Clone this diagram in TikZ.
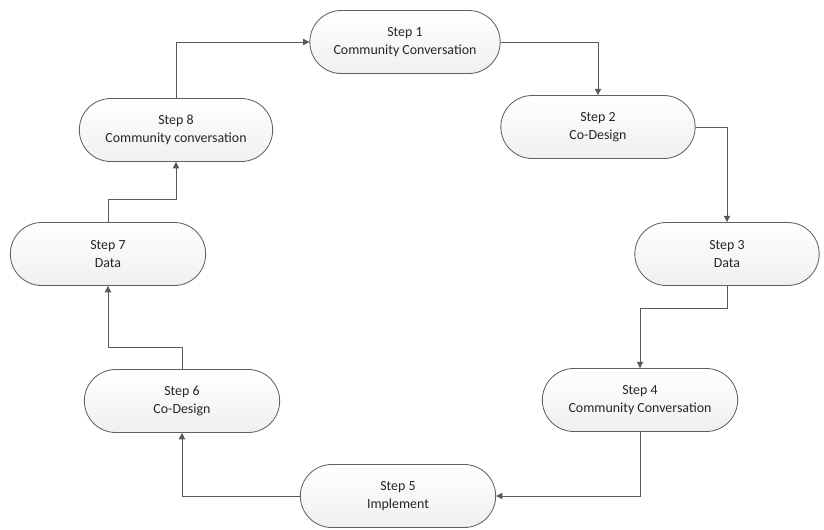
\documentclass[tikz,border=0pt]{standalone}
\usepackage{fontspec}
\setmainfont{Carlito}
\usepackage{tikz}
\usetikzlibrary{arrows.meta,shapes.misc,positioning,calc}

\tikzset{
  stepnode/.style={rounded rectangle, draw=gray!75!black, line width=0.6pt,
    top color=white, bottom color=gray!12, text=black!85,
    minimum height=63*0.025cm, align=center, inner sep=2pt,
    font=\fontsize{9.9}{12.8}\selectfont},
  link/.style={draw=gray!70!black, line width=0.6pt,
    -{Triangle[width=4.5pt,length=4.5pt]}}
}

\begin{document}
\begin{tikzpicture}[x=0.025cm, y=-0.025cm]
\useasboundingbox (0,0) rectangle (824,529);
\foreach \i/\x/\y/\w/\l in {1/405/42/196/Community Conversation,
  2/598/127/200/Co-Design, 3/727/254/190/Data,
  4/640/400/201/Community Conversation, 5/398/496/201/Implement,
  6/182/401/201/Co-Design, 7/108/254/201/Data,
  8/176/130/199/Community conversation} {
  \node[stepnode, minimum width=\w*0.025cm] (s\i) at (\x,\y) {Step \i\\\l};
}
\draw[link] (s1.east) -| (s2.north);
\draw[link] (s2.east) -| (s3.north);
\draw[link] (s3.south) -- ++(0,22) -| (s4.north);
\draw[link] (s4.south) |- (s5.east);
\draw[link] (s5.west) -| (s6.south);
\draw[link] (s6.north) -- ++(0,-22) -| (s7.south);
\draw[link] (s7.north) -- ++(0,-23) -| (s8.south);
\draw[link] (s8.north) |- (s1.west);
\end{tikzpicture}
\end{document}
